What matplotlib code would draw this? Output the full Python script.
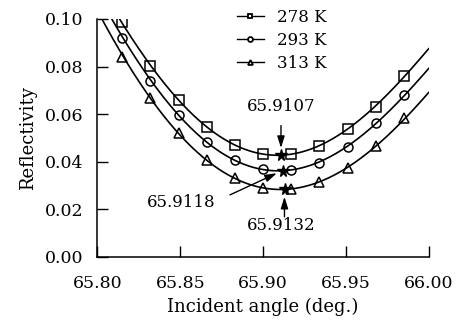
import numpy as np
import matplotlib
matplotlib.use("Agg")
import matplotlib.pyplot as plt

plt.rcParams['font.family'] = ['DejaVu Serif']

# measured points
angle = [65.815, 65.832, 65.849, 65.866, 65.883, 65.900,
         65.917, 65.934, 65.951, 65.968, 65.985]
r278 = [0.0986, 0.0804, 0.0660, 0.0545, 0.0471, 0.0433,
        0.0433, 0.0468, 0.0536, 0.0632, 0.0762]
r293 = [0.0921, 0.0741, 0.0597, 0.0484, 0.0408, 0.0368,
        0.0366, 0.0396, 0.0463, 0.0562, 0.0681]
r313 = [0.0842, 0.0667, 0.0520, 0.0408, 0.0331, 0.0291,
        0.0284, 0.0316, 0.0373, 0.0466, 0.0583]
labels = ["278 K", "293 K", "313 K"]
markers = ["s", "o", "^"]

# fitted curves, as read at their ends: angle where R = 0.10, and R at 66.00
curve_top_angle = [65.813, 65.809, 65.803]
curve_end_r = [0.0873, 0.0789, 0.0688]

# resonance angles of the minima
min_angle = [65.9107, 65.9118, 65.9132]

fig = plt.figure(figsize=(4.59, 3.22), dpi=100)
ax = fig.add_axes([0.2124, 0.2019, 0.7216, 0.7391])

xf = np.linspace(65.80, 66.00, 300)
handles = []
mins = []
for i, (r, m) in enumerate(zip([r278, r293, r313], markers)):
    fx = np.r_[curve_top_angle[i], angle, 66.00] - 65.9
    fy = np.r_[0.10, r, curve_end_r[i]]
    p = np.polyfit(fx, fy, 4)
    ax.plot(xf, np.polyval(p, xf - 65.9), c="k", lw=1.2, zorder=2)
    ax.plot(angle, r, ls="none", marker=m, ms=6.5, mfc="none", mec="k",
            mew=1.1, zorder=3)
    h, = ax.plot([], [], c="k", lw=1.0, marker=m, ms=3.5, mfc="white",
                 mec="k", mew=1.3)
    handles.append(h)
    mins.append(np.polyval(p, min_angle[i] - 65.9))

ax.plot(min_angle, mins, ls="none", marker="*", ms=8.5, c="k", zorder=4)

# annotations
arrow = dict(arrowstyle="-|>,head_length=0.7,head_width=0.22", color="k",
             lw=1.0, shrinkA=0, shrinkB=0)
ax.text(65.9112, 0.0634, "65.9107", ha="center", va="center", fontsize=12)
ax.annotate("", xy=(65.9108, 0.0458), xytext=(65.9108, 0.0552), arrowprops=arrow)
ax.text(65.8506, 0.0227, "65.9118", ha="center", va="center", fontsize=12)
ax.annotate("", xy=(65.9083, 0.0352), xytext=(65.880, 0.0261), arrowprops=arrow)
ax.text(65.9112, 0.0134, "65.9132", ha="center", va="center", fontsize=12)
ax.annotate("", xy=(65.9129, 0.0253), xytext=(65.9129, 0.0169), arrowprops=arrow)

ax.set_xlim(65.80, 66.00)
ax.set_ylim(0, 0.10)
ax.set_xticks(np.arange(65.80, 66.001, 0.05))
ax.set_yticks(np.arange(0, 0.1001, 0.02))
ax.xaxis.set_major_formatter(matplotlib.ticker.FormatStrFormatter("%.2f"))
ax.yaxis.set_major_formatter(matplotlib.ticker.FormatStrFormatter("%.2f"))
ax.tick_params(direction="in", length=8, width=1.0, labelsize=12.5)
ax.tick_params(axis="x", pad=13)
ax.tick_params(axis="y", pad=10)
ax.spines["top"].set_visible(False)
ax.spines["right"].set_visible(False)
for s in ["left", "bottom"]:
    ax.spines[s].set_linewidth(1.1)
ax.set_xlabel("Incident angle (deg.)", fontsize=13, labelpad=4)
ax.set_ylabel("Reflectivity", fontsize=13, labelpad=6)

fig.legend(handles, labels, loc="upper left", bbox_to_anchor=(0.516, 0.972),
           frameon=False, fontsize=12, handlelength=1.6, handletextpad=0.8,
           labelspacing=0.36, borderpad=0, borderaxespad=0)

plt.savefig("out.png", dpi=100)
